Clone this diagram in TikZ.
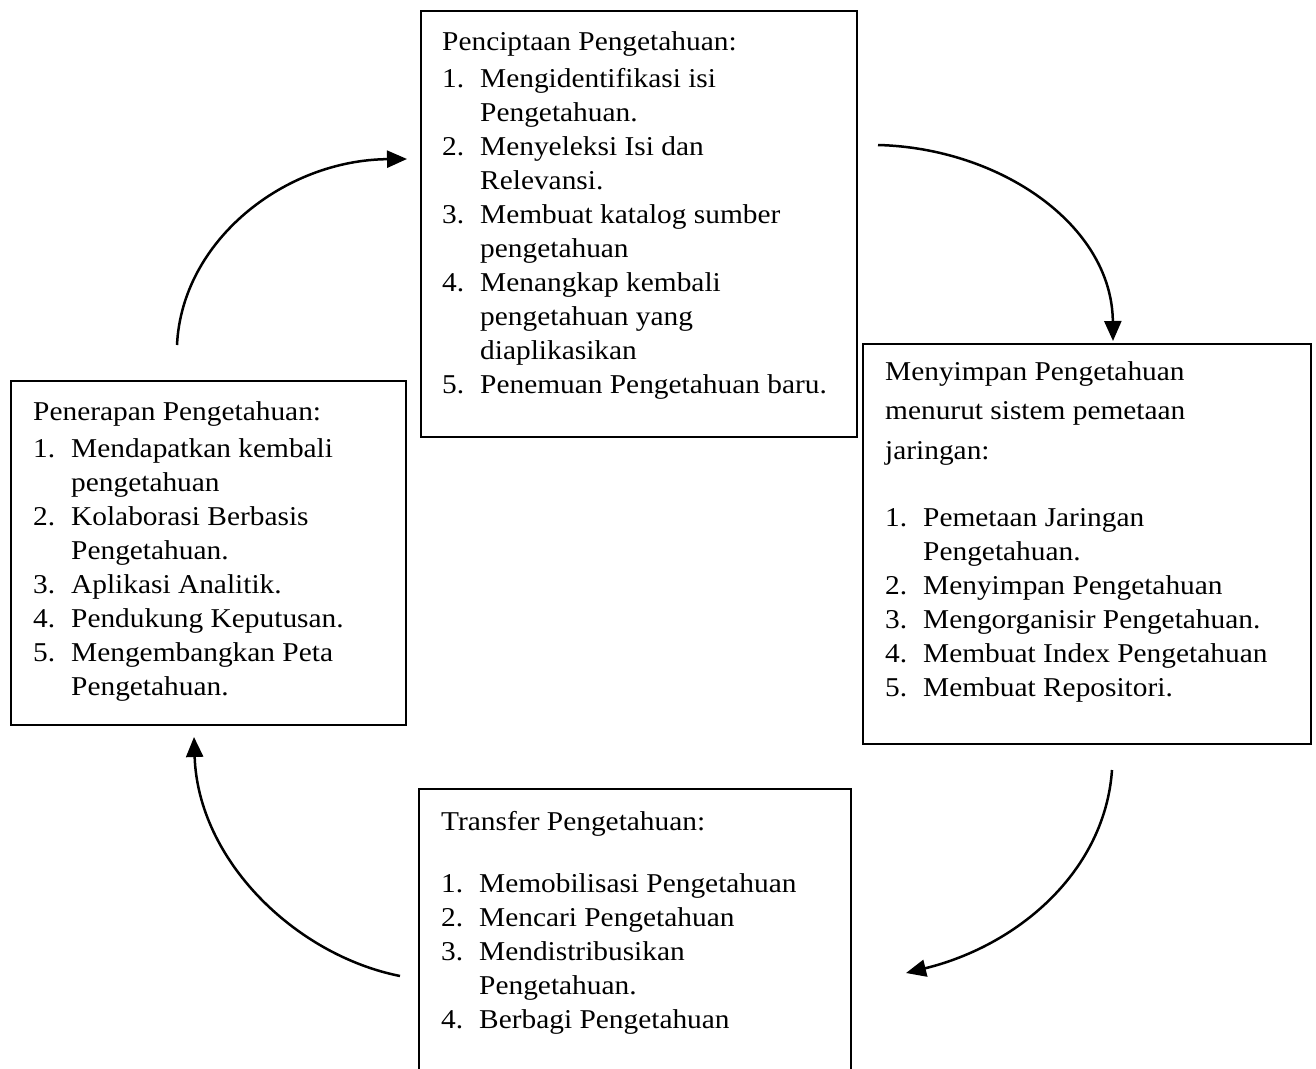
\documentclass[tikz,border=0pt]{standalone}
\usepackage{fontspec}
\setmainfont[FakeStretch=1.08]{Liberation Serif}
\usetikzlibrary{arrows.meta}
\newcommand{\kn}[1]{\makebox[38pt][l]{#1}}
\begin{document}
\begin{tikzpicture}[x=1pt,y=-1pt,
  kbox/.style={draw, line width=2.2pt, rectangle, inner sep=0pt, anchor=north west},
  ktext/.style={anchor=base west, inner sep=0pt, font=\fontsize{27.2}{34}\selectfont},
  flow/.style={line width=2.5pt, -{Triangle[length=20pt,width=17pt]}}]
\clip (0,0) rectangle (1316,1068);
\fill[white] (0,0) rectangle (1316,1068);

% boxes
\node[kbox, minimum width=436pt, minimum height=426pt] (cbox) at (420,10) {};
\node[kbox, minimum width=395pt, minimum height=344pt] (abox) at (10,380) {};
\node[kbox, minimum width=448pt, minimum height=400pt] (sbox) at (862,343) {};
\node[kbox, minimum width=432pt, minimum height=310pt] (tbox) at (418,788) {};

% texts
\node[ktext] (ctext) at (442,50) {\begin{tabular}[t]{@{}l@{}}
Penciptaan Pengetahuan:\\[3pt]
\kn{1.}Mengidentifikasi isi\\
\kn{}Pengetahuan.\\
\kn{2.}Menyeleksi Isi dan\\
\kn{}Relevansi.\\
\kn{3.}Membuat katalog sumber\\
\kn{}pengetahuan\\
\kn{4.}Menangkap kembali\\
\kn{}pengetahuan yang\\
\kn{}diaplikasikan\\
\kn{5.}Penemuan Pengetahuan baru.
\end{tabular}};

\node[ktext] (atext) at (33,420) {\begin{tabular}[t]{@{}l@{}}
Penerapan Pengetahuan:\\[3pt]
\kn{1.}Mendapatkan kembali\\
\kn{}pengetahuan\\
\kn{2.}Kolaborasi Berbasis\\
\kn{}Pengetahuan.\\
\kn{3.}Aplikasi Analitik.\\
\kn{4.}Pendukung Keputusan.\\
\kn{5.}Mengembangkan Peta\\
\kn{}Pengetahuan.
\end{tabular}};

\node[ktext] (stext) at (885,380) {\begin{tabular}[t]{@{}l@{}}
Menyimpan Pengetahuan\\[5pt]
menurut sistem pemetaan\\[6pt]
jaringan:\\[33pt]
\kn{1.}Pemetaan Jaringan\\
\kn{}Pengetahuan.\\
\kn{2.}Menyimpan Pengetahuan\\
\kn{3.}Mengorganisir Pengetahuan.\\
\kn{4.}Membuat Index Pengetahuan\\
\kn{5.}Membuat Repositori.
\end{tabular}};

\node[ktext] (ttext) at (441,830) {\begin{tabular}[t]{@{}l@{}}
Transfer Pengetahuan:\\[28pt]
\kn{1.}Memobilisasi Pengetahuan\\
\kn{2.}Mencari Pengetahuan\\
\kn{3.}Mendistribusikan\\
\kn{}Pengetahuan.\\
\kn{4.}Berbagi Pengetahuan
\end{tabular}};

% arrow end points
\coordinate (a1s) at (177,345);
\coordinate (a1e) at (407,159);
\coordinate (a2s) at (878,145);
\coordinate (a2e) at (1113,341);
\coordinate (a3s) at (1112,770);
\coordinate (a3e) at (906,973);
\coordinate (a4s) at (400,976);
\coordinate (a4e) at (194,737);

\draw[flow] (a1s) .. controls (182,240) and (285,160) .. (a1e);
\draw[flow] (a2s) .. controls (1000,148) and (1112,225) .. (a2e);
\draw[flow] (a3s) .. controls (1105,870) and (1020,945) .. (a3e);
\draw[flow] (a4s) .. controls (295,955) and (198,860) .. (a4e);
\end{tikzpicture}
\end{document}
